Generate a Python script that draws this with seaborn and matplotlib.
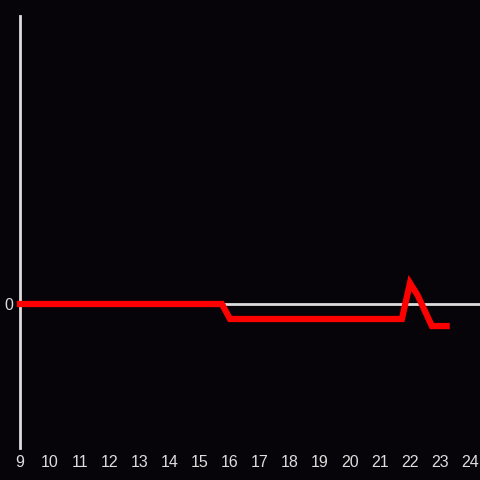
import matplotlib
matplotlib.use("Agg")
import matplotlib.pyplot as plt
import seaborn as sns
import pandas as pd

# hour of day vs change
hours = [9, 15.73, 16.0, 21.73, 22.0, 22.25, 22.73, 23.22]
values = [0, 0, -1.0, -1.0, 1.4, 0.6, -1.47, -1.47]
xticks = list(range(9, 25))

df = pd.DataFrame({"hour": hours, "value": values})

bg = "#060408"
fg = "#dddddd"

sns.set_theme(style="white")
plt.rcParams["font.family"] = ["Liberation Sans", "DejaVu Sans"]

fig = plt.figure(figsize=(4.8, 4.8), dpi=100, facecolor=bg)
ax = fig.add_axes([20 / 480, 32 / 480, 460 / 480, 432 / 480])
ax.set_facecolor(bg)

ax.axhline(0, color=fg, lw=2, zorder=1)
sns.lineplot(data=df, x="hour", y="value", color="#ff0000", lw=4.5,
             ax=ax, zorder=3, clip_on=False,
             solid_joinstyle="miter", solid_capstyle="projecting")

ax.set_xlim(9, 9 + 460 / 30)
ax.set_ylim(-9.6, 19.2)
ax.set_xticks(xticks)
ax.set_yticks([0])
ax.tick_params(colors=fg, labelsize=11.5, length=0, pad=5)
ax.set_xlabel("")
ax.set_ylabel("")

for s in ["top", "right", "bottom"]:
    ax.spines[s].set_visible(False)
ax.spines["left"].set_color(fg)
ax.spines["left"].set_linewidth(2)

fig.savefig("out.png", dpi=100, facecolor=bg)
